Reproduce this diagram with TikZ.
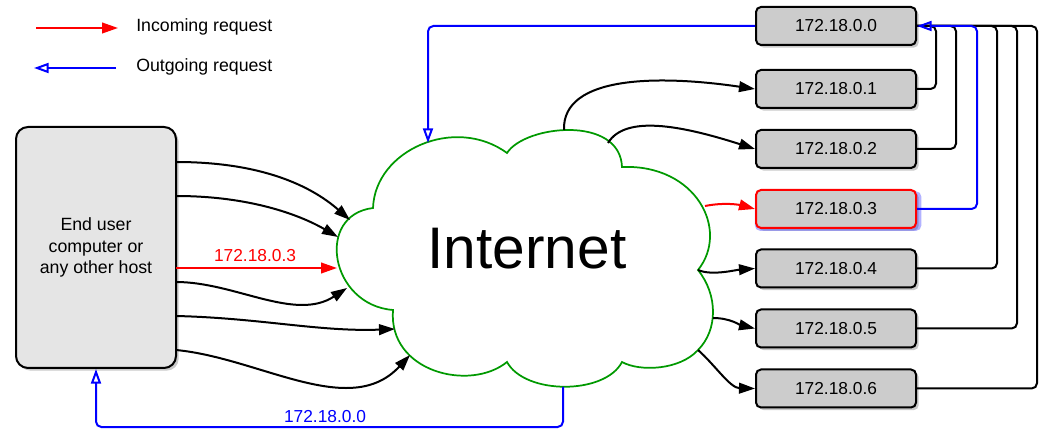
\documentclass[tikz,border=0pt]{standalone}
\usepackage{fontspec}
\setmainfont{Liberation Sans}
\usetikzlibrary{arrows.meta,shadows,calc}
\definecolor{cloudgreen}{RGB}{0,153,0}
\definecolor{boxgray}{RGB}{204,204,204}
\definecolor{usergray}{RGB}{229,229,229}
\definecolor{netblue}{RGB}{0,0,255}
\definecolor{netred}{RGB}{255,0,0}
\begin{document}
\begin{tikzpicture}[x=0.75pt,y=-0.75pt,
  ipbox/.style={draw=black, line width=1.5pt, fill=boxgray, rounded corners=3.75pt,
    minimum width=120pt, minimum height=28.5pt, inner sep=0pt,
    font=\fontsize{13}{15}\selectfont,
    drop shadow={shadow xshift=2pt, shadow yshift=-2pt, opacity=0.35, fill=black!60}},
  selbox/.style={ipbox, draw=netred,
    drop shadow={shadow xshift=1.5pt, shadow yshift=-1.5pt, shadow scale=1.04, opacity=0.3, fill=netblue}},
  userbox/.style={draw=black, line width=1.5pt, fill=usergray, rounded corners=9pt,
    minimum width=120pt, minimum height=180.75pt, inner sep=0pt, align=center,
    font=\fontsize{13.3}{16.1}\selectfont,
    drop shadow={shadow xshift=2pt, shadow yshift=-2pt, opacity=0.35, fill=black!60}},
  link/.style={line width=1.5pt, -{Triangle[length=12pt,width=8pt]}},
  inlink/.style={link, draw=netred, -{Triangle[length=12pt,width=8pt,fill=netred]}},
  back/.style={line width=1.5pt, rounded corners=4pt},
  outgo/.style={draw=netblue, line width=1.5pt, rounded corners=4pt,
    -{Triangle[open,length=11pt,width=7.5pt]}},
  lbl/.style={font=\fontsize{13}{15}\selectfont, inner sep=0pt},
  leg/.style={font=\fontsize{13.3}{15}\selectfont, inner sep=0pt},
  cloudline/.style={draw=cloudgreen, line width=1.3pt, fill=white}
]
\useasboundingbox (0,0) rectangle (1052,448);

% legend
\coordinate (la) at (36,28);
\coordinate (lb) at (118,28);
\coordinate (lc) at (116,68);
\coordinate (ld) at (34,68);
\draw[inlink] (la) -- (lb);
\draw[outgo] (lc) -- (ld);
\node[leg, anchor=base west] (lin) at (136,32) {Incoming request};
\node[leg, anchor=base west] (lout) at (136,72) {Outgoing request};

% cloud
\draw[cloudline] (373,208) .. controls (375,150) and (455,115) .. (507,153)
  .. controls (525,125) and (620,115) .. (622,167)
  .. controls (696,164) and (730,230) .. (698,270)
  .. controls (718,295) and (718,330) .. (698,350)
  .. controls (680,370) and (640,372) .. (622,362)
  .. controls (605,395) and (525,395) .. (507,362)
  .. controls (470,392) and (388,372) .. (393,310)
  .. controls (330,305) and (315,215) .. (373,208) -- cycle;
\node[font=\fontsize{44}{50}\selectfont, inner sep=0pt] (inet) at (527,249) {Internet};

% cloud ports
\coordinate (ci1) at (350,220);
\coordinate (ci2) at (338,237);
\coordinate (ci3) at (337,268);
\coordinate (ci4) at (347,288);
\coordinate (ci5) at (395,329);
\coordinate (ci6) at (410,355);
\coordinate (co1) at (564,130);
\coordinate (co2) at (608,143);
\coordinate (co3) at (705,206);
\coordinate (co4) at (698,270);
\coordinate (co5) at (713,318);
\coordinate (co6) at (698,350);
\coordinate (ctop) at (428,143);
\coordinate (cbot) at (563,387);

% user box
\node[userbox] (user) at (96,247.5) {End user\\computer or\\any other host};
\coordinate (u1) at (176,162);
\coordinate (u2) at (176,196);
\coordinate (u3) at (176,268);
\coordinate (u4) at (176,282);
\coordinate (u5) at (176,316);
\coordinate (u6) at (176,350);

% hosts
\node[ipbox] (n0) at (836,26) {172.18.0.0};
\node[ipbox] (n1) at (836,89) {172.18.0.1};
\node[ipbox] (n2) at (836,149) {172.18.0.2};
\node[selbox] (n3) at (836,209) {172.18.0.3};
\node[ipbox] (n4) at (836,268.5) {172.18.0.4};
\node[ipbox] (n5) at (836,328.5) {172.18.0.5};
\node[ipbox] (n6) at (836,388.5) {172.18.0.6};

% user -> cloud
\draw[link] (u1) .. controls (260,162) and (310,185) .. (ci1);
\draw[link] (u2) .. controls (250,196) and (300,215) .. (ci2);
\draw[inlink] (u3) -- (ci3);
\node[lbl, text=netred, anchor=base] (l3) at (255,262) {172.18.0.3};
\draw[link] (u4) .. controls (235,282) and (295,322) .. (ci4);
\draw[link] (u5) .. controls (260,318) and (320,332) .. (ci5);
\draw[link] (u6) .. controls (260,358) and (350,420) .. (ci6);

% cloud -> hosts
\draw[link] (co1) .. controls (562,75) and (660,75) .. (n1.west);
\draw[link] (co2) .. controls (625,115) and (680,125) .. (n2.west);
\draw[inlink] (co3) .. controls (725,202) and (740,205) .. (n3.west);
\draw[link] (co4) .. controls (712,276) and (735,270) .. (n4.west);
\draw[link] (co5) .. controls (730,318) and (740,325) .. (n5.west);
\draw[link] (co6) .. controls (715,365) and (730,388) .. (n6.west);

% return paths
\draw[back] (n1.east) -| ($(n0.east)+(19,0)$) -- (n0.east);
\draw[back] (n2.east) -| ($(n0.east)+(39,0)$) -- (n0.east);
\draw[back] (n4.east) -| ($(n0.east)+(80,0)$) -- (n0.east);
\draw[back] (n5.east) -| ($(n0.east)+(100,0)$) -- (n0.east);
\draw[back] (n6.east) -| ($(n0.east)+(120,0)$) -- (n0.east);
\draw[outgo] (n3.east) -| ($(n0.east)+(60,0)$) -- (n0.east);

% outgoing to cloud and back to user
\draw[outgo] (n0.west) -| (ctop);
\draw[outgo] (cbot) -- ++(0,40) -| (user.south);
\node[lbl, text=netblue, anchor=base] (l0) at (325,422) {172.18.0.0};
\end{tikzpicture}
\end{document}
